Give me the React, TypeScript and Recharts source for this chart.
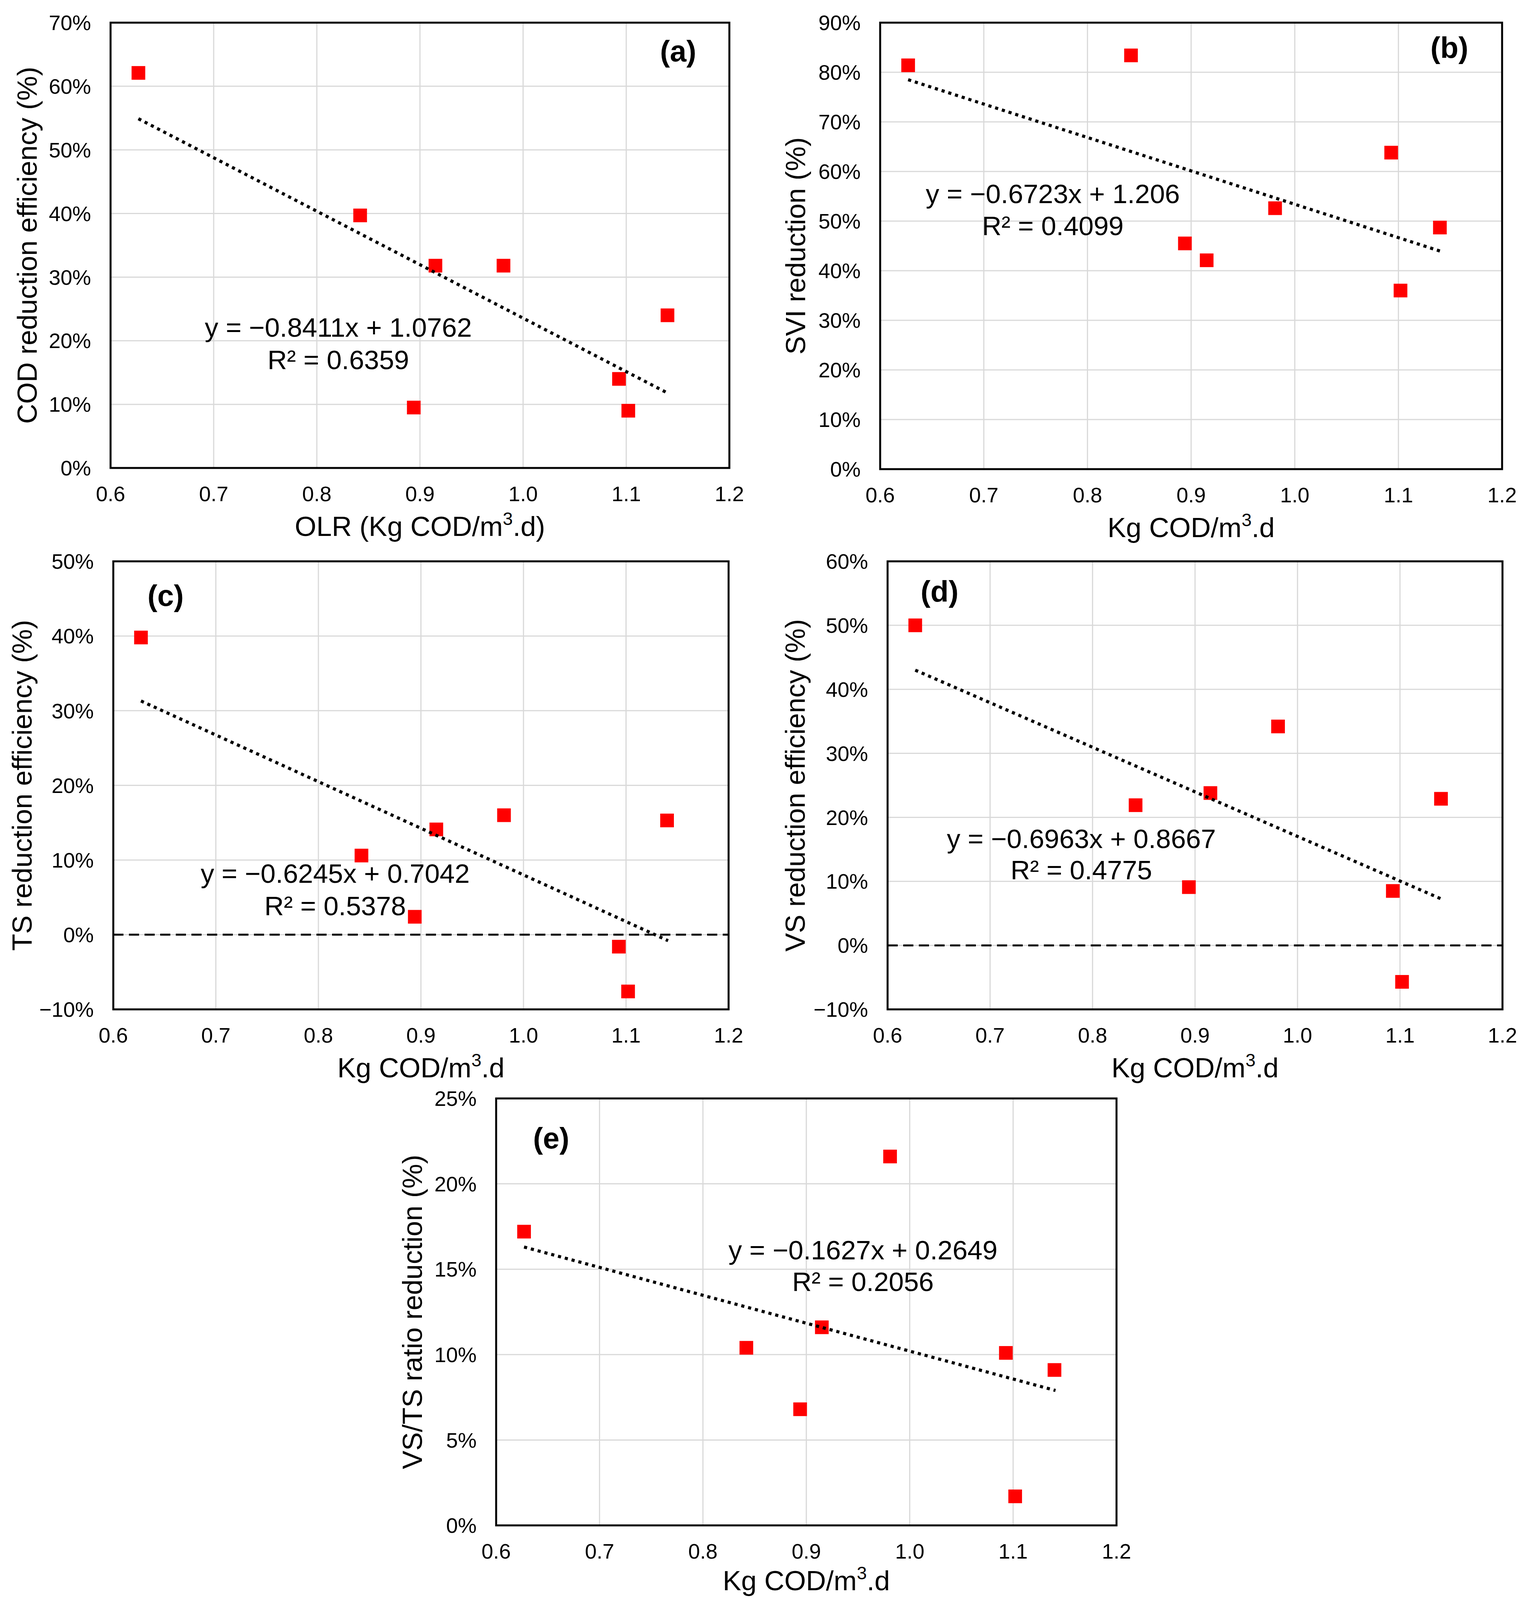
import React from 'react';
import {
  ScatterChart,
  Scatter,
  XAxis,
  YAxis,
  CartesianGrid,
  ReferenceLine,
  ReferenceArea,
} from 'recharts';

const FONT = '"Liberation Sans", Arial, Helvetica, sans-serif';

// ---------- data ----------
const olrValues = [0.627, 0.842, 0.894, 0.915, 0.981, 1.093, 1.102, 1.14];
const codReduction = [0.621, 0.397, 0.095, 0.318, 0.318, 0.14, 0.09, 0.24];
const sviReduction = [0.814, 0.834, 0.455, 0.421, 0.526, 0.638, 0.36, 0.487];
const tsReduction = [0.398, 0.106, 0.024, 0.141, 0.16, -0.016, -0.076, 0.153];
const vsReduction = [0.5, 0.219, 0.091, 0.238, 0.342, 0.085, -0.057, 0.229];
const vstsReduction = [0.172, 0.104, 0.068, 0.116, 0.216, 0.101, 0.017, 0.091];

// trend-line end points (linear fits drawn in the figure)
const trendX = [0.627, 1.141];
const codTrend = [0.549, 0.117];
const sviTrend = [0.785, 0.439];
const tsTrend = [0.313, -0.008];
const vsTrend = [0.43, 0.072];
const vstsTrend = [0.163, 0.079];

// tick labels
const xTicks = [0.6, 0.7, 0.8, 0.9, 1.0, 1.1, 1.2];
const codTicks = [0, 0.1, 0.2, 0.3, 0.4, 0.5, 0.6, 0.7];
const sviTicks = [0, 0.1, 0.2, 0.3, 0.4, 0.5, 0.6, 0.7, 0.8, 0.9];
const tsTicks = [-0.1, 0, 0.1, 0.2, 0.3, 0.4, 0.5];
const vsTicks = [-0.1, 0, 0.1, 0.2, 0.3, 0.4, 0.5, 0.6];
const vstsTicks = [0, 0.05, 0.1, 0.15, 0.2, 0.25];

// ---------- helpers ----------
const pctFormat = (v: number) => {
  const n = Math.round(Math.abs(v) * 100);
  return `${v < 0 ? '\u2212' : ''}${n}%`;
};
const xFormat = (v: number) => v.toFixed(1);

const RedSquare = (props: any) => {
  const { cx, cy } = props;
  if (cx == null || cy == null) return <g />;
  const s = 35;
  return <rect x={cx - s / 2} y={cy - s / 2} width={s} height={s} fill="#FF0000" />;
};
const NoShape = () => <g />;

type PanelProps = {
  box: [number, number, number, number];
  plot: [number, number, number, number];
  ys: number[];
  trendYs: number[];
  yTicks: number[];
  xTitle: string;
  xTitleSuffix: string;
  xTitleGap?: number;
  yTitle: string;
  yTitleOffset: number;
  equation: string;
  r2: string;
  eqPos: [number, number, number];
  tag: string;
  tagPos: [number, number];
  zeroLine?: boolean;
};

const Panel = (p: PanelProps) => {
  const [bx, by, bw, bh] = p.box;
  const [pl, pr, pt, pb] = p.plot;
  const margin = { top: pt - by, right: bx + bw - pr, left: 0, bottom: 0 };
  const yAxisWidth = pl - bx;
  const xAxisHeight = by + bh - pb;
  const lx = pl - bx;
  const rx = pr - bx;
  const ty = pt - by;
  const tb = pb - by;
  const points = olrValues.map((x, i) => ({ x, y: p.ys[i] }));
  const trend = trendX.map((x, i) => ({ x, y: p.trendYs[i] }));
  const yMin = p.yTicks[0];
  const yMax = p.yTicks[p.yTicks.length - 1];
  const gap = p.xTitleGap ?? 174;

  const xTitleNode = () => (
    <text
      x={(lx + rx) / 2}
      y={tb + gap}
      textAnchor="middle"
      fontSize={71}
      fill="#000"
      fontFamily={FONT}
    >
      {p.xTitle}
      <tspan fontSize={46} dy={-28}>
        3
      </tspan>
      <tspan fontSize={71} dy={28}>
        {p.xTitleSuffix}
      </tspan>
    </text>
  );

  const yTitleNode = () => {
    const tx = lx + p.yTitleOffset;
    const tyc = (ty + tb) / 2;
    return (
      <text
        x={tx}
        y={tyc}
        transform={`rotate(-90, ${tx}, ${tyc})`}
        textAnchor="middle"
        fontSize={71}
        fill="#000"
        fontFamily={FONT}
      >
        {p.yTitle}
      </text>
    );
  };

  const [ex, ey1, ey2] = p.eqPos;

  return (
    <div style={{ position: 'absolute', left: bx, top: by, width: bw, height: bh }}>
      <ScatterChart width={bw} height={bh} margin={margin}>
        <CartesianGrid stroke="#d9d9d9" strokeWidth={3} />
        <XAxis
          type="number"
          dataKey="x"
          domain={[0.6, 1.2]}
          ticks={xTicks}
          interval={0}
          tickFormatter={xFormat}
          axisLine={false}
          tickLine={false}
          tickSize={0}
          tickMargin={47}
          height={xAxisHeight}
          allowDataOverflow
          tick={{ fontSize: 54, fill: '#000', fontFamily: FONT }}
          label={{ content: xTitleNode }}
        />
        <YAxis
          type="number"
          dataKey="y"
          domain={[yMin, yMax]}
          ticks={p.yTicks}
          interval={0}
          tickFormatter={pctFormat}
          axisLine={false}
          tickLine={false}
          tickSize={0}
          tickMargin={50}
          width={yAxisWidth}
          allowDataOverflow
          tick={{ fontSize: 54, fill: '#000', fontFamily: FONT }}
          label={{ content: yTitleNode }}
        />
        <ReferenceArea
          x1={0.6}
          x2={1.2}
          y1={yMin}
          y2={yMax}
          fill="none"
          fillOpacity={0}
          stroke="#000"
          strokeWidth={5}
          ifOverflow="visible"
        />
        {p.zeroLine ? (
          <ReferenceLine y={0} stroke="#000" strokeWidth={5} strokeDasharray="26 14" />
        ) : null}
        <Scatter data={points} fill="#FF0000" shape={RedSquare} isAnimationActive={false} />
        <Scatter
          data={trend}
          fill="#000"
          shape={NoShape}
          line={{ stroke: '#000', strokeWidth: 8, strokeDasharray: '8 10' }}
          isAnimationActive={false}
        />
        <text x={ex - bx} y={ey1 - by} textAnchor="middle" fontSize={69} fill="#000" fontFamily={FONT}>
          {p.equation}
        </text>
        <text x={ex - bx} y={ey2 - by} textAnchor="middle" fontSize={69} fill="#000" fontFamily={FONT}>
          {p.r2}
        </text>
        <text
          x={p.tagPos[0] - bx}
          y={p.tagPos[1] - by}
          textAnchor="middle"
          fontSize={76}
          fontWeight="bold"
          fill="#000"
          fontFamily={FONT}
        >
          {p.tag}
        </text>
      </ScatterChart>
    </div>
  );
};

export default function App() {
  return (
    <div
      style={{
        position: 'absolute',
        left: 0,
        top: 0,
        width: 3919,
        height: 4170,
        background: '#ffffff',
        fontFamily: FONT,
        overflow: 'hidden',
      }}
    >
      <Panel
        box={[0, 0, 1960, 1400]}
        plot={[283, 1867, 58, 1198]}
        ys={codReduction}
        trendYs={codTrend}
        yTicks={codTicks}
        xTitle="OLR (Kg COD/m"
        xTitleSuffix=".d)"
        yTitle="COD reduction efficiency (%)"
        yTitleOffset={-189}
        equation={'y = \u22120.8411x + 1.0762'}
        r2={'R\u00B2 = 0.6359'}
        eqPos={[866, 862, 945]}
        tag="(a)"
        tagPos={[1736, 157]}
      />
      <Panel
        box={[1960, 0, 1959, 1400]}
        plot={[2253, 3845, 58, 1201]}
        ys={sviReduction}
        trendYs={sviTrend}
        yTicks={sviTicks}
        xTitle="Kg COD/m"
        xTitleSuffix=".d"
        yTitle="SVI reduction (%)"
        yTitleOffset={-192}
        equation={'y = \u22120.6723x + 1.206'}
        r2={'R\u00B2 = 0.4099'}
        eqPos={[2695, 520, 602]}
        tag="(b)"
        tagPos={[3710, 148]}
      />
      <Panel
        box={[0, 1380, 1960, 1400]}
        plot={[290, 1865, 1437, 2584]}
        ys={tsReduction}
        trendYs={tsTrend}
        yTicks={tsTicks}
        xTitle="Kg COD/m"
        xTitleSuffix=".d"
        yTitle="TS reduction efficiency (%)"
        yTitleOffset={-209}
        equation={'y = \u22120.6245x + 0.7042'}
        r2={'R\u00B2 = 0.5378'}
        eqPos={[858, 2260, 2343]}
        tag="(c)"
        tagPos={[424, 1551]}
        zeroLine
      />
      <Panel
        box={[1960, 1380, 1959, 1400]}
        plot={[2272, 3846, 1437, 2584]}
        ys={vsReduction}
        trendYs={vsTrend}
        yTicks={vsTicks}
        xTitle="Kg COD/m"
        xTitleSuffix=".d"
        yTitle="VS reduction efficiency (%)"
        yTitleOffset={-212}
        equation={'y = \u22120.6963x + 0.8667'}
        r2={'R\u00B2 = 0.4775'}
        eqPos={[2768, 2171, 2251]}
        tag="(d)"
        tagPos={[2405, 1540]}
        zeroLine
      />
      <Panel
        box={[960, 2770, 2000, 1320]}
        plot={[1270, 2858, 2812, 3905]}
        ys={vstsReduction}
        trendYs={vstsTrend}
        yTicks={vstsTicks}
        xTitle="Kg COD/m"
        xTitleSuffix=".d"
        xTitleGap={166}
        yTitle="VS/TS ratio reduction (%)"
        yTitleOffset={-190}
        equation={'y = \u22120.1627x + 0.2649'}
        r2={'R\u00B2 = 0.2056'}
        eqPos={[2209, 3224, 3305]}
        tag="(e)"
        tagPos={[1411, 2940]}
      />
    </div>
  );
}
